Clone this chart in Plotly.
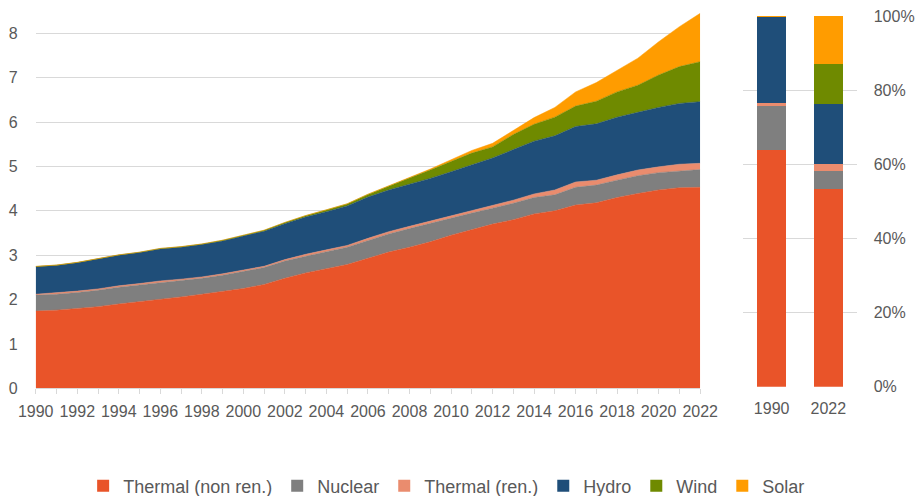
import plotly.graph_objects as go

years = list(range(1990, 2023))
series_names = ["Thermal (non ren.)", "Nuclear", "Thermal (ren.)", "Hydro", "Wind", "Solar"]
colors = ["#E95429", "#7F7F7F", "#EA8C6E", "#1F4E79", "#6F8A00", "#FF9C00"]

thermal_non_ren = [1.74, 1.76, 1.80, 1.84, 1.90, 1.95, 2.01, 2.06, 2.12, 2.19, 2.25, 2.34, 2.48, 2.60, 2.70, 2.79, 2.93,
                   3.07, 3.18, 3.30, 3.45, 3.58, 3.70, 3.80, 3.93, 4.00, 4.13, 4.18, 4.30, 4.39, 4.47, 4.52, 4.53]
nuclear = [0.36, 0.36, 0.36, 0.37, 0.38, 0.38, 0.38, 0.37, 0.36, 0.36, 0.38, 0.38, 0.39, 0.38, 0.38, 0.39, 0.40,
           0.41, 0.42, 0.42, 0.39, 0.37, 0.36, 0.37, 0.37, 0.36, 0.40, 0.40, 0.39, 0.40, 0.39, 0.38, 0.40]
thermal_ren = [0.02, 0.03, 0.03, 0.03, 0.03, 0.03, 0.03, 0.03, 0.03, 0.03, 0.03, 0.03, 0.03, 0.04, 0.04, 0.04, 0.05,
               0.05, 0.05, 0.05, 0.05, 0.06, 0.06, 0.07, 0.08, 0.11, 0.12, 0.11, 0.12, 0.13, 0.13, 0.15, 0.14]
hydro = [0.62, 0.62, 0.64, 0.67, 0.69, 0.70, 0.72, 0.72, 0.73, 0.74, 0.77, 0.79, 0.81, 0.84, 0.86, 0.89, 0.93,
         0.94, 0.95, 0.96, 0.99, 1.02, 1.07, 1.14, 1.19, 1.22, 1.25, 1.27, 1.30, 1.30, 1.34, 1.37, 1.39]
wind = [0.005, 0.005, 0.005, 0.005, 0.005, 0.005, 0.01, 0.01, 0.01, 0.015, 0.015, 0.02, 0.025, 0.03, 0.04, 0.045, 0.06,
        0.09, 0.14, 0.19, 0.23, 0.27, 0.25, 0.34, 0.38, 0.42, 0.46, 0.51, 0.57, 0.61, 0.73, 0.83, 0.90]
solar = [0.003, 0.003, 0.003, 0.003, 0.003, 0.003, 0.003, 0.003, 0.003, 0.003, 0.003, 0.003, 0.003, 0.003, 0.003, 0.004, 0.005,
         0.006, 0.01, 0.02, 0.04, 0.06, 0.08, 0.10, 0.15, 0.22, 0.32, 0.42, 0.49, 0.61, 0.75, 0.90, 1.09]

bar_categories = ["1990", "2022"]
share_1990 = [63.8, 12.0, 0.7, 23.3, 0.1, 0.1]
share_2022 = [53.4, 4.8, 1.8, 16.3, 10.7, 13.0]

y_ticks_left = [0, 1, 2, 3, 4, 5, 6, 7, 8]
y_ticks_right = [0, 20, 40, 60, 80, 100]

series_values = [thermal_non_ren, nuclear, thermal_ren, hydro, wind, solar]

W, H = 916, 496
FONT = "Liberation Sans, Arial, sans-serif"
TXT = "#595959"
GRID = "#D9D9D9"

def px_x(p):
    return p / W

def px_y(p):
    return 1 - p / H

fig = go.Figure()

for name, vals, col in zip(series_names, series_values, colors):
    fig.add_trace(go.Scatter(
        x=years, y=vals, name=name, stackgroup="one", mode="lines",
        line=dict(width=0.5, color=col), fillcolor=col,
        showlegend=False, xaxis="x", yaxis="y", hoverinfo="x+y+name"))

for i, (name, col) in enumerate(zip(series_names, colors)):
    fig.add_trace(go.Bar(
        x=bar_categories, y=[share_1990[i], share_2022[i]], name=name,
        marker=dict(color=col, line=dict(width=0)), xaxis="x2", yaxis="y2",
        showlegend=True))

left_top_val = 8.6
fig.update_layout(
    width=W, height=H,
    margin=dict(l=0, r=0, t=0, b=0, autoexpand=False),
    template="none",
    paper_bgcolor="white", plot_bgcolor="white",
    barmode="stack", bargap=0.49,
    font=dict(family=FONT, size=16, color=TXT),
    showlegend=True,
    legend=dict(orientation="h", x=0.4876, xanchor="center", y=px_y(486), yanchor="middle",
                font=dict(family=FONT, size=18, color=TXT), traceorder="normal",
                bgcolor="rgba(0,0,0,0)"),
    xaxis=dict(domain=[px_x(35.7), px_x(700.2)], range=[1990, 2022], tickmode="linear", tick0=1990, dtick=2,
               ticks="outside", ticklen=5, tickcolor=GRID, showgrid=False, showline=True, linecolor=GRID,
               linewidth=1, zeroline=False, automargin=False, tickfont=dict(size=16, color=TXT),
               ticklabelstandoff=3,
               minor=dict(dtick=1, ticks="outside", ticklen=5, tickcolor=GRID, showgrid=False),
               anchor="y"),
    yaxis=dict(domain=[px_y(388.3), px_y(388.3 - left_top_val * 44.375)], range=[0, left_top_val],
               tickvals=y_ticks_left, showgrid=True, gridcolor=GRID, gridwidth=1.3, zeroline=False,
               showline=False, ticks="", automargin=False, ticklabelstandoff=17,
               tickfont=dict(size=16, color=TXT), anchor="x"),
    xaxis2=dict(domain=[px_x(743.3), px_x(856.7)], type="category", showgrid=False, showline=False,
                ticks="", zeroline=False, automargin=False, ticklabelstandoff=10,
                tickfont=dict(size=16, color=TXT), anchor="y2"),
    yaxis2=dict(domain=[px_y(386.7), px_y(16)], range=[0, 100], tickvals=y_ticks_right,
                ticktext=[f"{v}%" for v in y_ticks_right], side="right", anchor="x2",
                showgrid=True, gridcolor=GRID, gridwidth=1.3, zeroline=False, showline=False, ticks="",
                automargin=False, ticklabelstandoff=16, tickfont=dict(size=16, color=TXT)),
)

fig.write_html("out.html", config={"displayModeBar": False},
               post_script="document.body.style.margin='0px';document.body.style.padding='0px';")
